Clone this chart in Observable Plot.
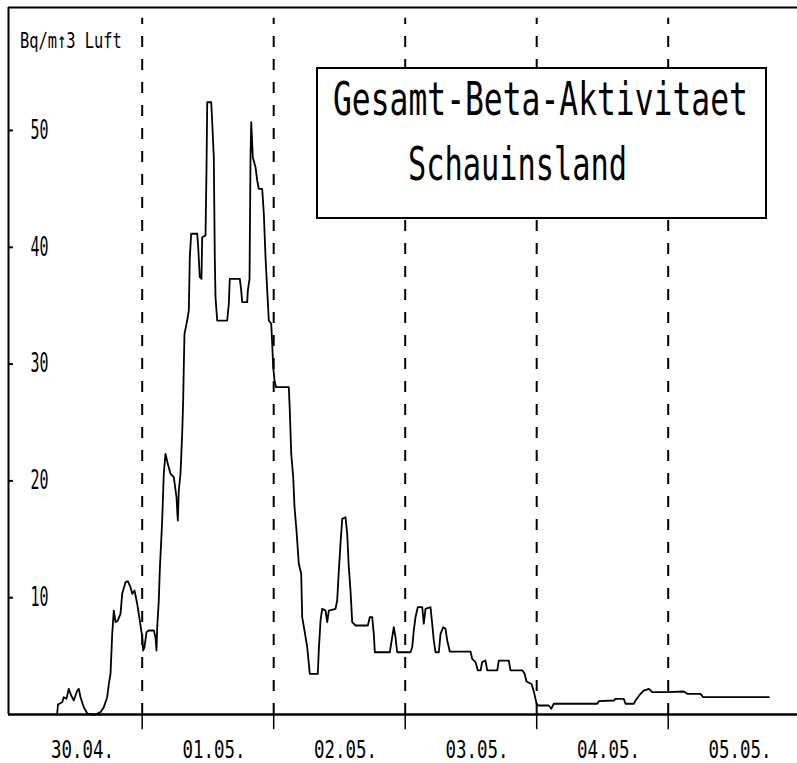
<!DOCTYPE html>
<html><head><meta charset="utf-8">
<script src="https://cdn.jsdelivr.net/npm/d3@7"></script>
<script src="https://cdn.jsdelivr.net/npm/@observablehq/plot@0.6"></script>
<style>html,body{margin:0;padding:0;background:#fff;overflow:hidden}</style>
</head><body><div id="chart"></div>
<script>
// Hours since 30.04. 00:00
const timeHours = [
8.49, 8.63, 9.40, 9.69, 10.18, 10.60, 11.04, 11.52, 12.14, 12.43,
12.74, 13.34, 13.96, 14.57, 15.48, 16.39, 16.99, 17.61, 17.91, 18.22,
18.53, 18.82, 19.13, 19.55, 20.04, 20.35, 20.95, 21.37, 21.87, 22.18,
22.60, 23.09, 23.56, 24.00, 24.18, 24.42, 24.79, 25.21, 26.12, 26.43,
26.61, 26.74, 27.03, 27.21, 27.65, 27.94, 28.25, 28.67, 29.17, 29.77,
30.26, 30.50, 30.68, 30.99, 31.30, 31.48, 31.59, 31.72, 32.21, 32.51,
32.69, 32.94, 34.04, 34.22, 34.51, 34.82, 34.95, 35.56, 35.74, 35.87,
36.60, 36.78, 37.07, 37.25, 37.38, 37.69, 39.51, 39.81, 39.99, 41.82,
42.07, 42.25, 43.17, 43.28, 43.59, 43.77, 43.90, 44.19, 44.68, 44.99,
45.28, 45.90, 46.20, 46.51, 46.82, 47.11, 47.55, 47.73, 47.91, 48.15,
48.42, 50.76, 50.94, 51.20, 51.56, 51.80, 52.16, 52.58, 53.02, 53.20,
53.62, 54.12, 54.59, 56.05, 56.23, 56.55, 56.85, 57.46, 57.77, 58.06,
59.28, 59.59, 59.89, 60.19, 60.51, 61.11, 61.42, 61.71, 62.02, 62.33,
62.93, 65.18, 65.54, 65.98, 66.27, 66.46, 69.19, 69.63, 69.92, 70.23,
70.54, 72.97, 73.28, 73.57, 73.88, 74.30, 75.11, 75.40, 75.71, 76.62,
76.93, 77.22, 77.53, 78.14, 78.45, 78.94, 79.36, 79.67, 80.14, 83.92,
84.23, 84.84, 85.26, 85.75, 86.06, 86.66, 86.97, 88.80, 89.09, 90.91,
91.22, 93.41, 93.78, 94.14, 95.06, 95.51, 96.01, 96.33, 98.21, 98.65,
99.13, 107.05, 107.34, 110.08, 110.39, 111.90, 112.21, 113.73, 114.04, 114.95,
115.55, 116.47, 117.09, 119.83, 122.85, 123.48, 125.90, 126.40, 138.37
];
// Gesamt-Beta-Aktivitaet, Bq/m3
const betaActivity = [
0.1, 0.86, 1.05, 1.48, 1.34, 2.20, 1.63, 1.20, 2.05, 2.20,
1.48, 0.62, 0.11, 0, 0, 0.20, 0.62, 1.48, 2.63, 3.48,
6.91, 8.90, 7.90, 8.05, 8.62, 10.33, 11.33, 11.41, 10.90, 10.33,
10.62, 9.48, 8.05, 6.62, 5.48, 5.76, 7.05, 7.19, 7.19, 6.62,
5.48, 7.47, 9.76, 12.33, 16.61, 20.61, 22.32, 21.46, 20.61, 20.32,
18.60, 16.61, 19.18, 20.61, 24.03, 26.88, 29.73, 32.59, 33.73, 34.59,
39.15, 41.16, 41.16, 40.01, 37.44, 37.30, 40.86, 41.01, 46.86, 52.42,
52.42, 50.71, 47.71, 39.15, 35.73, 33.73, 33.73, 35.16, 37.30, 37.30,
36.30, 35.30, 35.30, 36.30, 37.30, 47.71, 50.71, 47.71, 46.86, 45.72,
45.01, 45.01, 42.87, 39.15, 36.30, 33.73, 33.45, 31.74, 29.73, 28.60,
28.02, 28.02, 26.03, 22.32, 20.32, 17.75, 15.75, 12.90, 12.05, 8.33,
7.19, 5.76, 3.48, 3.48, 5.48, 8.05, 9.05, 8.90, 7.90, 8.90,
9.05, 9.76, 12.33, 14.61, 16.75, 16.89, 15.47, 12.61, 10.62, 7.90,
7.62, 7.62, 8.33, 8.33, 6.91, 5.33, 5.33, 6.62, 7.47, 6.62,
5.33, 5.33, 5.76, 7.19, 8.33, 9.19, 9.19, 7.77, 9.05, 9.19,
7.77, 6.34, 5.33, 5.33, 6.91, 7.47, 7.34, 6.34, 5.39, 5.39,
4.77, 4.48, 3.77, 3.77, 4.48, 4.62, 3.77, 3.77, 4.62, 4.62,
3.77, 3.77, 3.51, 2.83, 2.61, 1.91, 0.86, 0.77, 0.77, 0.49,
0.92, 0.92, 1.14, 1.20, 1.34, 1.34, 0.92, 0.92, 1.20, 1.77,
2.05, 2.20, 1.91, 1.91, 1.97, 1.77, 1.77, 1.48, 1.48
];
const yTicks = [10, 20, 30, 40, 50];
const dayLabels = ["30.04.", "01.05.", "02.05.", "03.05.", "04.05.", "05.05."];
const dayBoundaries = [24, 48, 72, 96, 120];
const yLabel = "Bq/m\u21913 Luft";
const titleLines = ["Gesamt-Beta-Aktivitaet", "Schauinsland"];

const n = Math.min(timeHours.length, betaActivity.length);
const data = timeHours.slice(0, n).map((h, i) => ({h, v: betaActivity[i]}));
const x0 = -0.4, x1 = 143.6, yMax = 60.53;
const font = "'DejaVu Sans Mono', monospace";

const plot = Plot.plot({
  width: 797, height: 763,
  marginLeft: 8, marginRight: 0, marginTop: 7, marginBottom: 49,
  style: {fontFamily: font, background: "white", color: "black", overflow: "visible"},
  x: {domain: [x0, x1], axis: null},
  y: {domain: [0, yMax], axis: null},
  marks: [
    Plot.ruleX(dayBoundaries, {y1: 0, y2: 59.6, stroke: "black", strokeWidth: 2, strokeDasharray: "11,12"}),
    Plot.ruleX(dayBoundaries, {y1: -1.3, y2: 0, stroke: "black", strokeWidth: 1.5}),
    Plot.ruleX([x0], {stroke: "black", strokeWidth: 2}),
    Plot.ruleY([0], {stroke: "black", strokeWidth: 2.5}),
    Plot.ruleY([yMax], {stroke: "black", strokeWidth: 2}),
    Plot.ruleY(yTicks, {x1: x0, x2: x0 + 0.9, stroke: "black", strokeWidth: 2}),
    Plot.text(yTicks, {y: d => d, text: d => String(d), frameAnchor: "left", dx: 40, textAnchor: "end", fontSize: 26, fill: "black"}),
    Plot.text(dayLabels, {x: (d, i) => i * 24 + 12, text: d => d, frameAnchor: "bottom", lineAnchor: "top", dy: 26, dx: 6, fontSize: 24, fill: "black"}),
    Plot.line(data, {x: "h", y: "v", stroke: "black", strokeWidth: 1.8})
  ]
});

document.getElementById("chart").appendChild(plot);
const svg = d3.select(plot);

// condense text horizontally (narrow terminal-style glyphs)
function condense(sel, x, y, width, anchor) {
  const node = sel.node();
  const w = node.getComputedTextLength() || width;
  const k = width / w;
  const tx = anchor === "end" ? x - width : x;
  sel.attr("x", null).attr("y", null).attr("text-anchor", "start")
     .attr("transform", `translate(${tx},${y}) scale(${k},1)`);
}

const yTickStrings = yTicks.map(String);
svg.selectAll("text").each(function () {
  const t = this.textContent;
  const s = d3.select(this);
  if (yTickStrings.includes(t)) {
    s.attr("textLength", 18).attr("lengthAdjust", "spacingAndGlyphs");
  } else if (dayLabels.includes(t)) {
    s.attr("textLength", 63).attr("lengthAdjust", "spacingAndGlyphs");
  }
});

const yl = svg.append("text").attr("font-size", 22).attr("fill", "black").text(yLabel);
condense(yl, 20, 48, 102);

const box = svg.append("g");
box.append("rect").attr("x", 317).attr("y", 68).attr("width", 449).attr("height", 150)
  .attr("fill", "white").attr("stroke", "black").attr("stroke-width", 2);
const t1 = box.append("text").attr("font-size", 46).attr("fill", "black").text(titleLines[0]);
condense(t1, 333, 115, 415);
const t2 = box.append("text").attr("font-size", 46).attr("fill", "black").text(titleLines[1]);
condense(t2, 408, 180, 219);
</script>
</body></html>
